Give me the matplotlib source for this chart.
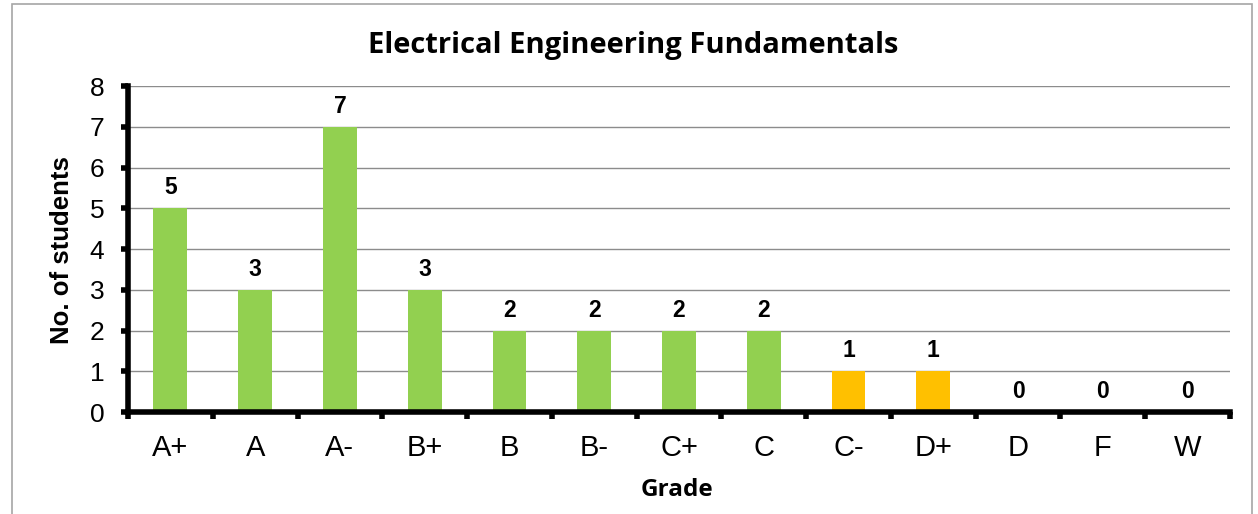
import matplotlib.pyplot as plt
import matplotlib.patches as mpatches
import numpy as np

grades = ["A+", "A", "A-", "B+", "B", "B-", "C+", "C", "C-", "D+", "D", "F", "W"]
students = [5, 3, 7, 3, 2, 2, 2, 2, 1, 1, 0, 0, 0]
bar_colors = ["#92D050"] * 8 + ["#FFC000"] * 2 + ["#92D050"] * 3

W, H = 1258, 514
fig = plt.figure(figsize=(W / 100, H / 100), dpi=100, facecolor="white")
ax = fig.add_axes([128 / W, 1 - 412 / H, 1102 / W, 326 / H])

x = np.arange(len(grades))
ax.bar(x, students, width=0.4, color=bar_colors, zorder=3)

for xi, v in zip(x, students):
    ax.text(xi, v + 0.22, str(v), ha="center", va="bottom", fontsize=16.5,
            fontweight="bold", family="Liberation Sans", zorder=4)

ax.set_xlim(-0.5, len(grades) - 0.5)
ax.set_ylim(0, 8)
ax.set_yticks(range(0, 9))
ax.yaxis.grid(True, color="#8c8c8c", linewidth=1, zorder=0)
ax.set_axisbelow(True)

ax.set_xticks(x)
ax.set_xticklabels(grades, fontsize=21, family="Liberation Sans")
ax.set_xticks(np.arange(-0.5, len(grades)), minor=True)
ax.tick_params(axis="x", which="major", length=0, pad=16)
ax.tick_params(axis="x", which="minor", length=5, width=4, direction="out")
ax.tick_params(axis="y", length=5, width=4, direction="out", labelsize=19, pad=12)
for lbl in ax.get_yticklabels():
    lbl.set_family("Liberation Sans")

for side in ["top", "right"]:
    ax.spines[side].set_visible(False)
for side in ["left", "bottom"]:
    ax.spines[side].set_linewidth(4)
    ax.spines[side].set_zorder(5)

fig.text(62 / W, 1 - 250 / H, "No. of students", rotation=90, ha="center", va="center",
         fontsize=18.5, fontweight="bold", family="Liberation Sans")
fig.text(677 / W, 1 - 490 / H, "Grade", ha="center", va="center",
         fontsize=17.5, fontweight="bold", family="Open Sans")
fig.text(633 / W, 1 - 46 / H, "Electrical Engineering Fundamentals", ha="center", va="center",
         fontsize=21, fontweight="bold", family="Open Sans")

border = mpatches.Rectangle((12 / W, -0.01), 1240 / W, 1 - 4 / H + 0.01,
                            transform=fig.transFigure, fill=False,
                            edgecolor="#a6a6a6", linewidth=1.2)
fig.patches.append(border)

fig.savefig("out.png", dpi=100)
